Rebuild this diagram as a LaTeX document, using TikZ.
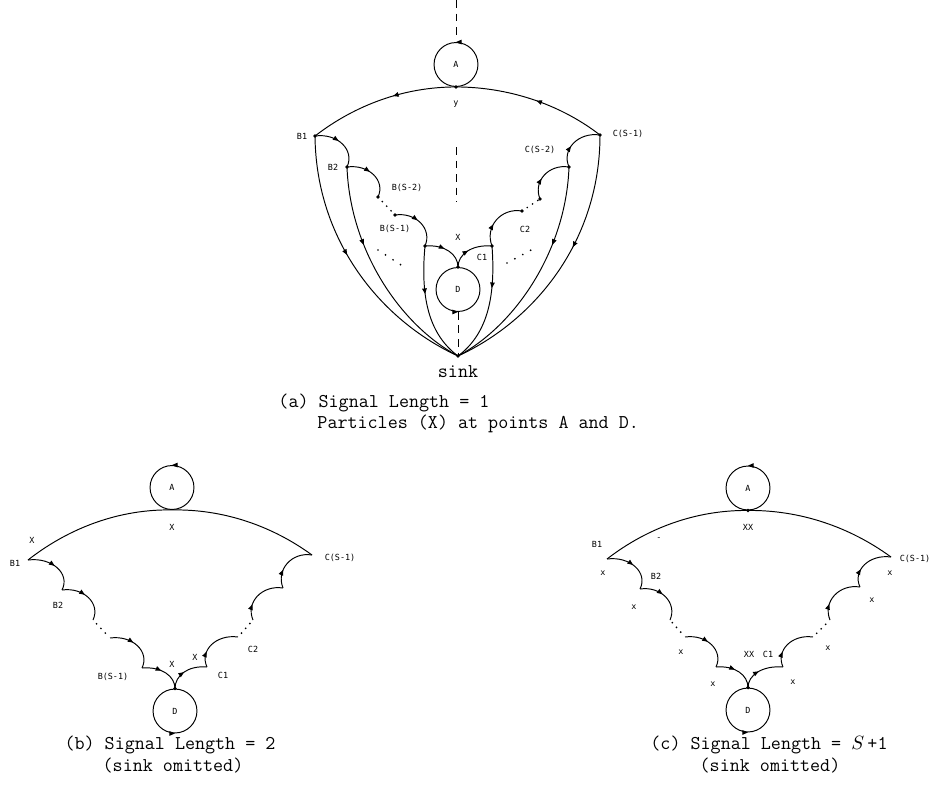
\documentclass[tikz,border=0pt]{standalone}
\usepackage{fontspec}
\usetikzlibrary{arrows.meta,decorations.markings,calc}
\newfontfamily\plotfont{DejaVu Sans Mono}
\newcommand{\scarc}[3][]{\draw[#1] let \p1=(#2), \p2=(#3) in (#2) .. controls ({\x1+0.7*(\x2-\x1)},{\y1-0.1*(\y2-\y1)}) and ({\x2+0.25*(\x2-\x1)},{\y2-0.55*(\y2-\y1)}) .. (#3);}
\newcommand{\cusparc}[3][]{\draw[#1] let \p1=(#2), \p2=(#3) in (#2) .. controls ({\x1+0.6*(\x2-\x1)},{\y1-0.08*(\y2-\y1)}) and ({\x2},{\y2-0.6*(\y2-\y1)}) .. (#3);}
\begin{document}
\begin{tikzpicture}[x=0.02cm,y=-0.02cm, line width=0.55pt,
 lbl/.style={font=\plotfont\fontsize{4.8}{5}\selectfont, inner sep=0pt},
 captxt/.style={font=\ttfamily\fontsize{11.1}{13}\selectfont, inner sep=0pt},
 ring/.style={circle, draw, minimum size=25pt, inner sep=0pt, font=\plotfont\fontsize{4.8}{5}\selectfont},
 dashline/.style={dash pattern=on 4.5pt off 3.2pt},
 ell/.style={line width=1.1pt, line cap=round, dash pattern=on 0pt off 3.6pt},
 arr/.style={postaction={decorate}, decoration={markings, mark=at position #1 with {\arrow{Triangle[length=3.2pt,width=2.6pt]}}}},
 arrR/.style={postaction={decorate}, decoration={markings, mark=at position #1 with {\arrowreversed{Triangle[length=3.2pt,width=2.6pt]}}}},
]
\useasboundingbox (0,0) rectangle (937,791);

% ================= Panel (a) =================
\node[ring] (Aa) at (456,64.5) {A};
\node[ring] (Da) at (458,289.5) {D};
\coordinate (aTop) at (456,0);
\coordinate (aMid1) at (456,147);
\coordinate (aMid2) at (456,202);
\coordinate (sink) at (458,356);
\coordinate (aB1) at (315,136);
\coordinate (aB2) at (347,167);
\coordinate (aB3) at (378,197);
\coordinate (aB4) at (395,215);
\coordinate (aB5) at (425,246);
\coordinate (aC1) at (492,246);
\coordinate (aC2) at (522,211);
\coordinate (aC3) at (540,199);
\coordinate (aC4) at (569,167);
\coordinate (aC5) at (600,135);
\coordinate (aL1) at (378,250);
\coordinate (aL2) at (401,265);
\coordinate (aR1) at (507,263);
\coordinate (aR2) at (533,249);

\draw[dashline, shorten >=3pt] (aTop) -- (Aa.north);
\draw[dashline] (aMid1) -- (aMid2);
\draw[dashline] (Da.south) -- (sink);
\path[arr=0.5] ([xshift=2pt]Aa.north) -- ([xshift=-2pt]Aa.north);
\path[arr=0.5] ([xshift=-2pt]Da.south) -- ([xshift=2pt]Da.south);

\draw[arr=0.47] (aC5) .. controls (559.3,103.6) and (507.5,87) .. (Aa.south);
\draw[arr=0.42] (Aa.south) .. controls (404.5,87) and (355.7,104.6) .. (aB1);

\scarc[arr=0.45]{aB1}{aB2}
\scarc[arr=0.45]{aB2}{aB3}
\draw[ell] (aB3) -- (aB4);
\scarc[arr=0.45]{aB4}{aB5}
\cusparc[arr=0.45]{aB5}{Da.north}
\cusparc[arrR=0.55]{aC1}{Da.north}
\scarc[arrR=0.6]{aC2}{aC1}
\draw[ell] (aC2) -- (aC3);
\scarc[arrR=0.6]{aC4}{aC3}
\scarc[arrR=0.6]{aC5}{aC4}

\draw[arr=0.45] (aB1) .. controls (316,240) and (380,320) .. (sink);
\draw[arr=0.35] (aB2) .. controls (350,250) and (400,325) .. (sink);
\draw[arr=0.4] (aB5) .. controls (420,300) and (430,335) .. (sink);
\draw[arr=0.35] (aC1) .. controls (496,300) and (486,335) .. (sink);
\draw[arr=0.35] (aC4) .. controls (566,250) and (516,325) .. (sink);
\draw[arr=0.42] (aC5) .. controls (600,240) and (536,320) .. (sink);

\draw[ell, dash pattern=on 0pt off 5.1pt] (aL1) -- (aL2);
\draw[ell, dash pattern=on 0pt off 5.1pt] (aR1) -- (aR2);

\foreach \p in {aB1,aB2,aB3,aB4,aB5,aC1,aC2,aC3,aC4,aC5,sink}
  \fill (\p) circle[radius=1.1pt];
\fill (Aa.south) circle[radius=1.1pt];
\fill (Da.north) circle[radius=1.1pt];

\node[lbl] (la1) at (456,104) {y};
\node[lbl] (la2) at (302,136) {B1};
\node[lbl] (la3) at (333,167) {B2};
\node[lbl] (la4) at (407,188) {B(S-2)};
\node[lbl] (la5) at (395,229) {B(S-1)};
\node[lbl] (la6) at (458,237) {X};
\node[lbl] (la7) at (482,257) {C1};
\node[lbl] (la8) at (525,229) {C2};
\node[lbl] (la9) at (540,150) {C(S-2)};
\node[lbl] (la10) at (628,134) {C(S-1)};
\node[captxt] (sinklbl) at (458,372) {sink};
\node[captxt, anchor=west] (capa1) at (278,403) {(a) Signal Length = 1};
\node[captxt, anchor=west] (capa2) at (317,424) {Particles (X) at points A and D.};

% ================= Panel (b) =================
\node[ring] (Ab) at (172,487.5) {A};
\node[ring] (Db) at (175,711) {D};
\coordinate (bB1) at (28,560);
\coordinate (bB2) at (62,590);
\coordinate (bB3) at (93,620);
\coordinate (bB4) at (110,638);
\coordinate (bB5) at (142,668);
\coordinate (bC1) at (207,667);
\coordinate (bC2) at (238,637);
\coordinate (bC3) at (253,620);
\coordinate (bC4) at (283,588);
\coordinate (bC5) at (312,555);

\path[arr=0.5] ([xshift=2pt]Ab.north) -- ([xshift=-2pt]Ab.north);
\path[arr=0.5] ([xshift=-2pt]Db.south) -- ([xshift=2pt]Db.south);
\draw (bB1) .. controls (69.6,527.4) and (120,509) .. (Ab.south) .. controls (223.1,509) and (271.6,525.6) .. (bC5);
\scarc[arr=0.5]{bB1}{bB2}
\scarc[arr=0.45]{bB2}{bB3}
\draw[ell, shorten <=3pt, shorten >=3.5pt] (bB3) -- (bB4);
\scarc[arr=0.45]{bB4}{bB5}
\cusparc[arr=0.45]{bB5}{Db.north}
\cusparc[arrR=0.55]{bC1}{Db.north}
\scarc[arrR=0.7]{bC2}{bC1}
\draw[ell, shorten <=3pt, shorten >=1pt] (bC2) -- (bC3);
\scarc[arrR=0.7]{bC4}{bC3}
\scarc[arrR=0.65]{bC5}{bC4}
\fill (Db.north) circle[radius=1.1pt];

\node[lbl] (lb1) at (172,527) {X};
\node[lbl] (lb2) at (32,540) {X};
\node[lbl] (lb3) at (15,563) {B1};
\node[lbl] (lb4) at (340,558) {C(S-1)};
\node[lbl] (lb5) at (58,605) {B2};
\node[lbl] (lb6) at (113,677) {B(S-1)};
\node[lbl] (lb7) at (172,664) {X};
\node[lbl] (lb8) at (195,657) {X};
\node[lbl] (lb9) at (223,675) {C1};
\node[lbl] (lb10) at (253,649) {C2};
\node[captxt] (capb1) at (170,745) {(b) Signal Length = 2};
\node[captxt] (capb2) at (173,766) {(sink omitted)};

% ================= Panel (c) =================
\node[ring] (Ac) at (748,488) {A};
\node[ring] (Dc) at (748,710) {D};
\coordinate (cB1) at (607,559);
\coordinate (cB2) at (640,589);
\coordinate (cB3) at (670,620);
\coordinate (cB4) at (685,637);
\coordinate (cB5) at (716,667);
\coordinate (cC1) at (783,667);
\coordinate (cC2) at (813,637);
\coordinate (cC3) at (830,620);
\coordinate (cC4) at (860,587);
\coordinate (cC5) at (891,557);

\path[arr=0.5] ([xshift=2pt]Ac.north) -- ([xshift=-2pt]Ac.north);
\path[arr=0.5] ([xshift=-2pt]Dc.south) -- ([xshift=2pt]Dc.south);
\draw (cB1) .. controls (647.7,527.6) and (696.5,510) .. (Ac.south) .. controls (800.2,510) and (849.7,526.9) .. (cC5);
\scarc[arr=0.5]{cB1}{cB2}
\scarc[arr=0.45]{cB2}{cB3}
\draw[ell, shorten <=2pt, shorten >=3pt] (cB3) -- (cB4);
\scarc[arr=0.45]{cB4}{cB5}
\cusparc[arr=0.45]{cB5}{Dc.north}
\cusparc[arrR=0.55]{cC1}{Dc.north}
\scarc[arrR=0.7]{cC2}{cC1}
\draw[ell, shorten <=3pt, shorten >=1pt] (cC2) -- (cC3);
\scarc[arrR=0.7]{cC4}{cC3}
\scarc[arrR=0.65]{cC5}{cC4}
\fill (Ac.south) circle[radius=1.1pt];
\fill (Dc.north) circle[radius=1.1pt];

\node[lbl] (lc1) at (748,527) {XX};
\node[lbl] (lc2) at (597,544) {B1};
\node[lbl] (lc3) at (659,539) {-};
\node[lbl] (lc4) at (915,559) {C(S-1)};
\node[lbl] (lc5) at (603,573) {x};
\node[lbl] (lc6) at (656,576) {B2};
\node[lbl] (lc7) at (634,607) {x};
\node[lbl] (lc8) at (681,652) {x};
\node[lbl] (lc9) at (749,654) {XX};
\node[lbl] (lc10) at (768,654) {C1};
\node[lbl] (lc11) at (713,684) {x};
\node[lbl] (lc12) at (793,682) {x};
\node[lbl] (lc13) at (828,648) {x};
\node[lbl] (lc14) at (872,600) {x};
\node[lbl] (lc15) at (890,573) {x};
\node[captxt] (capc1) at (769,745) {(c) Signal Length = $S$\,+1};
\node[captxt] (capc2) at (770,766) {(sink omitted)};
\end{tikzpicture}
\end{document}
